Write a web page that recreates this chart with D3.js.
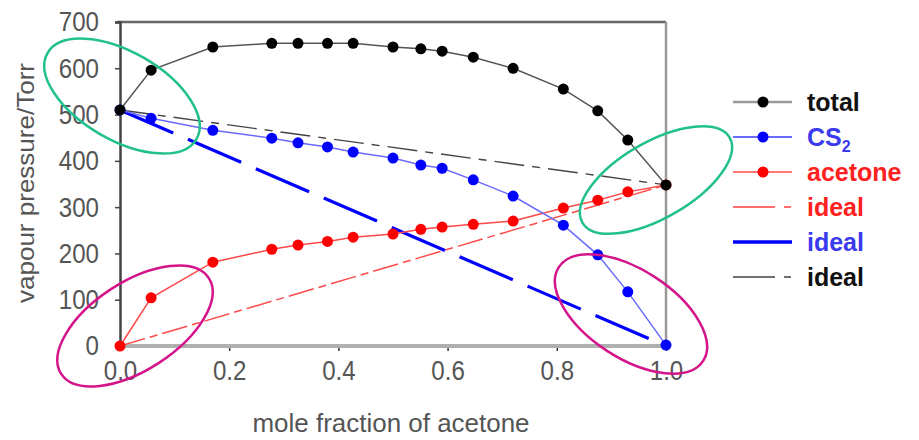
<!DOCTYPE html>
<html>
<head>
<meta charset="utf-8">
<script src="https://cdn.jsdelivr.net/npm/d3@7"></script>
<style>
  body { margin: 0; background: #fff; }
  svg { display: block; font-family: "Liberation Sans", Arial, sans-serif; }
</style>
</head>
<body>
<svg id="chart" width="919" height="440"></svg>
<script>
// mole fraction of acetone at each measured point
var moleFraction = [0, 0.057, 0.17, 0.278, 0.326, 0.38, 0.427, 0.5, 0.551, 0.59, 0.647, 0.72, 0.812, 0.875, 0.93, 1.0];
// vapour pressures (Torr)
var totalP   = [510, 596, 646, 654, 654, 654, 654, 646, 642, 637, 624, 600, 555, 508, 445, 348];
var cs2P     = [510, 492, 466, 449, 439, 430, 419, 406, 391, 384, 359, 324, 261, 197, 117, 2];
var acetoneP = [0, 104, 181, 209, 218, 226, 235, 242, 252, 257, 263, 270, 298, 315, 333, 348];
// Raoult's law lines: [x, P] end points
var idealAcetone = [[0, 0], [1, 348]];
var idealCS2     = [[0, 510], [1, 0]];
var idealTotal   = [[0, 510], [1, 348]];

var xTicks = [0, 0.2, 0.4, 0.6, 0.8, 1.0];
var yTicks = [0, 100, 200, 300, 400, 500, 600, 700];

var svg = d3.select('#chart');
var margin = {left: 120, right: 253, top: 22, bottom: 94};
var W = 919, H = 440;

var x = d3.scaleLinear().domain([0, 1]).range([margin.left, W - margin.right]);
var y = d3.scaleLinear().domain([0, 700]).range([H - margin.bottom, margin.top]);

// frame
svg.append('line').attr('x1', x(0) - 3).attr('x2', x(1)).attr('y1', y(700)).attr('y2', y(700))
    .attr('stroke', '#666').attr('stroke-width', 2.5);
svg.append('line').attr('x1', x(1)).attr('x2', x(1)).attr('y1', y(700)).attr('y2', y(0))
    .attr('stroke', '#999').attr('stroke-width', 2.5);
svg.append('line').attr('x1', x(0)).attr('x2', x(1)).attr('y1', y(0)).attr('y2', y(0))
    .attr('stroke', '#b0b0b0').attr('stroke-width', 4);

// tick labels in the picture are tall and narrow
function narrow(sel) {
    sel.attr('fill', '#555').attr('font-size', 28)
        .attr('font-family', '"Liberation Sans", Arial, sans-serif')
        .attr('lengthAdjust', 'spacingAndGlyphs')
        .attr('textLength', function () { return this.getComputedTextLength() * 0.86; });
}

// axes
var gy = svg.append('g').attr('transform', 'translate(' + x(0) + ',0)')
    .call(d3.axisLeft(y).tickValues(yTicks).tickSize(5).tickPadding(16).tickFormat(d3.format('d')));
gy.select('.domain').attr('stroke', '#444').attr('stroke-width', 2.5);
gy.selectAll('.tick line').attr('stroke', '#444').attr('stroke-width', 1.5);
gy.selectAll('.tick text').call(narrow);

var gx = svg.append('g').attr('transform', 'translate(0,' + (y(0) + 2) + ')')
    .call(d3.axisBottom(x).tickValues(xTicks).tickSize(3).tickPadding(9).tickFormat(d3.format('.1f')));
gx.select('.domain').remove();
gx.selectAll('.tick line').attr('stroke', '#333').attr('stroke-width', 1.5);
gx.selectAll('.tick text').call(narrow);

// axis titles
svg.append('text').attr('x', 391).attr('y', 432).attr('text-anchor', 'middle')
    .attr('font-size', 26).attr('fill', '#555')
    .attr('textLength', 277).attr('lengthAdjust', 'spacingAndGlyphs')
    .text('mole fraction of acetone');
svg.append('text').attr('transform', 'translate(34,183) rotate(-90)').attr('text-anchor', 'middle')
    .attr('font-size', 24).attr('fill', '#555')
    .attr('textLength', 240).attr('lengthAdjust', 'spacingAndGlyphs')
    .text('vapour pressure/Torr');

var line = d3.line().x(function (d) { return x(d[0]); }).y(function (d) { return y(d[1]); });

// ideal lines
svg.append('path').datum(idealAcetone).attr('d', line).attr('fill', 'none')
    .attr('stroke', '#ff4a4a').attr('stroke-width', 1.5).attr('stroke-dasharray', '26,5,8,5');
svg.append('path').datum(idealCS2).attr('d', line).attr('fill', 'none')
    .attr('stroke', '#0000ff').attr('stroke-width', 3.2).attr('stroke-dasharray', '58,16');
svg.append('path').datum(idealTotal).attr('d', line).attr('fill', 'none')
    .attr('stroke', '#444').attr('stroke-width', 1.4).attr('stroke-dasharray', '30,8,8,8');

var series = [
    {name: 'acetone', values: acetoneP, line: '#ff4848', dot: '#ff0000'},
    {name: 'cs2', values: cs2P, line: '#6a6aff', dot: '#0000ff'},
    {name: 'total', values: totalP, line: '#555', dot: '#000'}
];
series.forEach(function (s) {
    var pts = moleFraction.map(function (m, i) { return [m, s.values[i]]; });
    svg.append('path').datum(pts).attr('d', line).attr('fill', 'none')
        .attr('stroke', s.line).attr('stroke-width', 1.5);
    svg.append('g').selectAll('circle').data(pts).enter().append('circle')
        .attr('cx', function (d) { return x(d[0]); })
        .attr('cy', function (d) { return y(d[1]); })
        .attr('r', 5.5).attr('fill', s.dot);
});

// highlight ellipses
var ellipses = [
    {cx: 122, cy: 96, rx: 86, ry: 44, rot: 30, color: '#22c08c'},
    {cx: 656, cy: 180, rx: 85, ry: 38, rot: -30, color: '#22c08c'},
    {cx: 135, cy: 326, rx: 88, ry: 44, rot: -33, color: '#d4148a'},
    {cx: 631, cy: 314, rx: 86, ry: 44, rot: 33, color: '#d4148a'}
];
svg.append('g').selectAll('ellipse').data(ellipses).enter().append('ellipse')
    .attr('transform', function (d) { return 'translate(' + d.cx + ',' + d.cy + ') rotate(' + d.rot + ')'; })
    .attr('rx', function (d) { return d.rx; }).attr('ry', function (d) { return d.ry; })
    .attr('fill', 'none').attr('stroke', function (d) { return d.color; }).attr('stroke-width', 2.5);

// legend
var legendNames = ['total', 'CS', 'acetone', 'ideal', 'ideal', 'ideal'];
var legendText  = ['#111', '#3a3aee', '#ff2020', '#ff2020', '#3a3aee', '#111'];
var legendLine  = ['#999', '#3a3aff', '#ff4848', '#ff4040', '#0000ff', '#444'];
var legendWidth = [2.5, 1.4, 1.6, 1.6, 3.5, 1.6];
var legendDash  = [null, null, null, '42,9,7', null, '42,9,7'];
var legendDot   = ['#000', '#0000ff', '#ff0000', null, null, null];

var lg = svg.append('g');
legendNames.forEach(function (n, i) {
    var ly = 102 + i * 35;
    lg.append('line').attr('x1', 733).attr('x2', 792).attr('y1', ly).attr('y2', ly)
        .attr('stroke', legendLine[i]).attr('stroke-width', legendWidth[i])
        .attr('stroke-dasharray', legendDash[i]);
    if (legendDot[i]) {
        lg.append('circle').attr('cx', 763).attr('cy', ly).attr('r', 5.5).attr('fill', legendDot[i]);
    }
    var t = lg.append('text').attr('x', 807).attr('y', ly + 9)
        .attr('font-size', 25).attr('font-weight', 'bold').attr('fill', legendText[i]).text(n);
    if (n === 'CS') {
        t.append('tspan').attr('font-size', 16).attr('dy', 6).text('2');
    }
});
</script>
</body>
</html>
